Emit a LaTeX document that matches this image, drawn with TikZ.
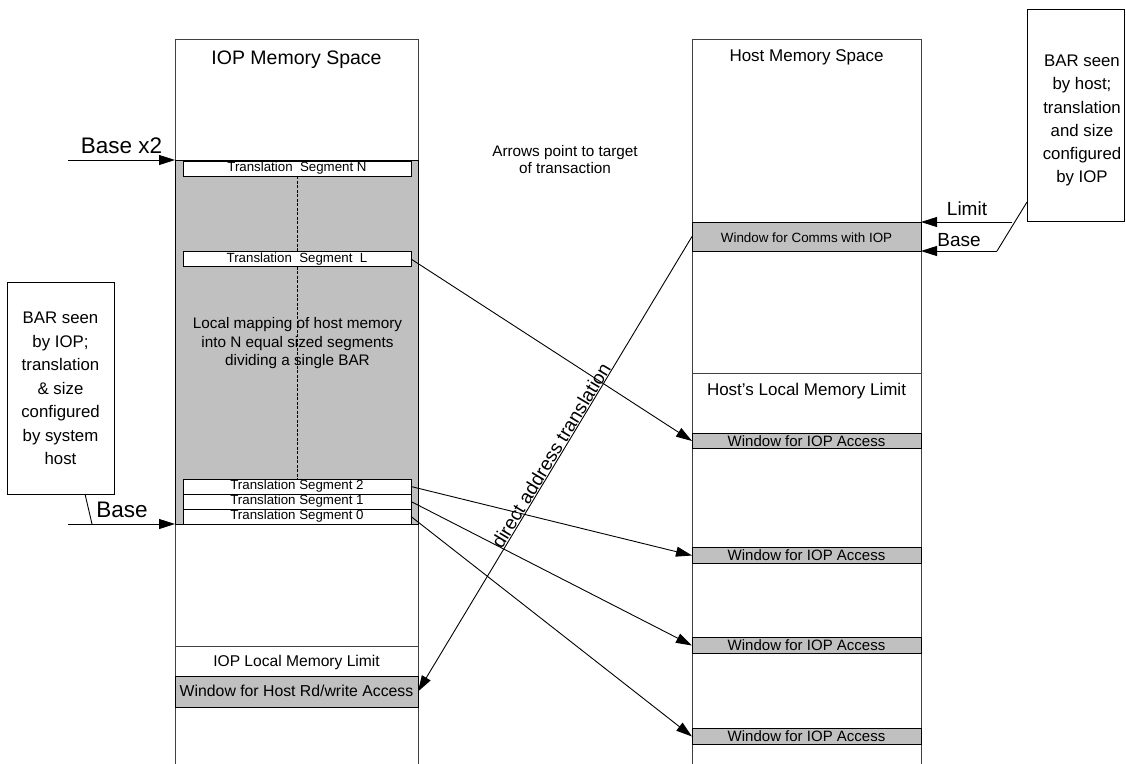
\documentclass[tikz,border=0pt]{standalone}
\usepackage{fontspec}
\setmainfont{Liberation Sans}
\usetikzlibrary{arrows.meta}
\definecolor{barfill}{HTML}{C0C0C0}
\newcommand\fsz[2]{\fontsize{#1}{#2}\selectfont}

\begin{document}
\begin{tikzpicture}[x=1pt,y=-1pt,line width=0.9pt,
  every node/.style={inner sep=0pt,outer sep=0pt},
  column/.style={draw=black!75,fill=white,minimum width=#1,minimum height=751pt},
  region/.style={draw=black,fill=barfill,minimum width=243pt,minimum height=364pt},
  segbox/.style={draw=black,fill=white,minimum width=228pt,minimum height=15pt,font=\fsz{13.3}{15}},
  iopwin/.style={draw=black,fill=barfill,minimum width=229pt,minimum height=15.5pt,font=\fsz{15}{17}},
  callout/.style={draw=black,fill=white},
  arr/.style={-{Triangle[length=16pt,width=10pt]}},
]
\useasboundingbox (0,0) rectangle (1126,763);
\clip (0,0) rectangle (1126,763);
\fill[white] (0,0) rectangle (1126,763);

% ---- the two address spaces ----
\node[column=243pt] (iopcol) at (296.5,414.5) {};
\node[column=229pt] (hostcol) at (806.5,414.5) {};
\node[anchor=base,font=\fsz{19.5}{23}] (ioptitle) at (296.5,64.3) {IOP Memory Space};
\node[anchor=base,font=\fsz{17}{20}] (hosttitle) at (806.5,61.7) {Host Memory Space};

% ---- IOP side: segmented BAR ----
\node[region] (bar) at (296.5,342) {};
\node[segbox] (segN) at (297,168.5) {Translation~~Segment N};
\node[segbox] (segL) at (297,259) {Translation~~Segment~~L};
\node[segbox] (seg2) at (297,486.5) {Translation Segment 2};
\node[segbox] (seg1) at (297,501.5) {Translation Segment 1};
\node[segbox] (seg0) at (297,516.5) {Translation Segment 0};
\draw[line width=0.8pt,dash pattern=on 3pt off 1.5pt] (segN.south) -- (segL.north);
\draw[line width=0.8pt,dash pattern=on 3pt off 1.5pt] (segL.south) -- (seg2.north);
\node[align=center,font=\fsz{15.3}{18.3}] (maptext) at (297.5,343.3)
  {Local mapping of host memory\\into N equal sized segments\\dividing a single BAR};

% IOP local memory and host window
\draw[black!75] (175,646) -- (418,646);
\node[anchor=base,font=\fsz{15.6}{18}] (ioplimit) at (296.5,666.7) {IOP Local Memory Limit};
\node[draw=black,fill=barfill,minimum width=243pt,minimum height=31pt] (hostwin) at (296.5,691.5) {};
\node[anchor=base,font=\fsz{15.8}{18}] at (296.5,696.7) {Window for Host Rd/write Access};

% ---- Host side ----
\node[draw=black,fill=barfill,minimum width=229pt,minimum height=29pt] (comms) at (806.5,236.5) {};
\node[anchor=base,font=\fsz{13.4}{16}] at (806.5,242) {Window for Comms with IOP};
\draw[black!75] (692,373) -- (921,373);
\node[anchor=base,font=\fsz{17}{20}] (hostlimit) at (806.5,395) {Host's Local Memory Limit};
\node[iopwin] (win1) at (806.5,441) {Window for IOP Access};
\node[iopwin] (win2) at (806.5,555.5) {Window for IOP Access};
\node[iopwin] (win3) at (806.5,645.5) {Window for IOP Access};
\node[iopwin] (win4) at (806.5,736.5) {Window for IOP Access};

% ---- BAR callouts ----
\node[callout,minimum width=107pt,minimum height=212pt] (lbar) at (60.5,388) {};
\node[align=center,font=\fsz{16.8}{23.5}] (lbartext) at (60.5,388.5)
  {BAR seen\\by IOP;\\translation\\\& size\\configured\\by system\\host};
\node[callout,minimum width=97pt,minimum height=212pt] (rbar) at (1075.5,115) {};
\node[align=center,font=\fsz{16.8}{23.3}] (rbartext) at (1082,120.7)
  {BAR seen\\by host;\\translation\\and size\\configured\\by IOP};

% base / limit pointers
\coordinate (bx2start) at (68,160);
\coordinate (bstart) at (68,524);
\coordinate (lfoot) at (92,524);
\coordinate (limstart) at (1012,222);
\coordinate (hbstart) at (997,251);
\draw[arr] (bx2start) -- (bar.north west);
\draw[arr] (bstart) -- (bar.south west);
\draw (lbar.south) ++(24.5,0) -- (lfoot);
\draw[arr] (limstart) -- (comms.north east);
\draw[arr] (hbstart) -- (comms.south east);
\draw (rbar.south west) ++(0,-19) -- (hbstart);
\node[anchor=base,font=\fsz{22.5}{26}] (bx2label) at (121.5,153.3) {Base x2};
\node[anchor=base,font=\fsz{22.5}{26}] (blabel) at (122,517.7) {Base};
\node[anchor=base,font=\fsz{19}{22}] (limlabel) at (967,215) {Limit};
\node[anchor=base,font=\fsz{19}{22}] (hblabel) at (959,246) {Base};

% ---- transactions ----
\draw[arr] (segL.east) -- (win1.west);
\draw[arr] (seg2.east) -- (win2.west);
\draw[arr] (seg1.east) -- (win3.west);
\draw[arr] (seg0.east) -- (win4.west);
\draw[arr] (comms.west) -- node[pos=0.49,sloped,above=1pt,font=\fsz{19}{22}] {direct address translation} (hostwin.east);

\node[align=center,font=\fsz{15.3}{17}] (note) at (565,160)
  {Arrows point to target\\of transaction};
\end{tikzpicture}
\end{document}
